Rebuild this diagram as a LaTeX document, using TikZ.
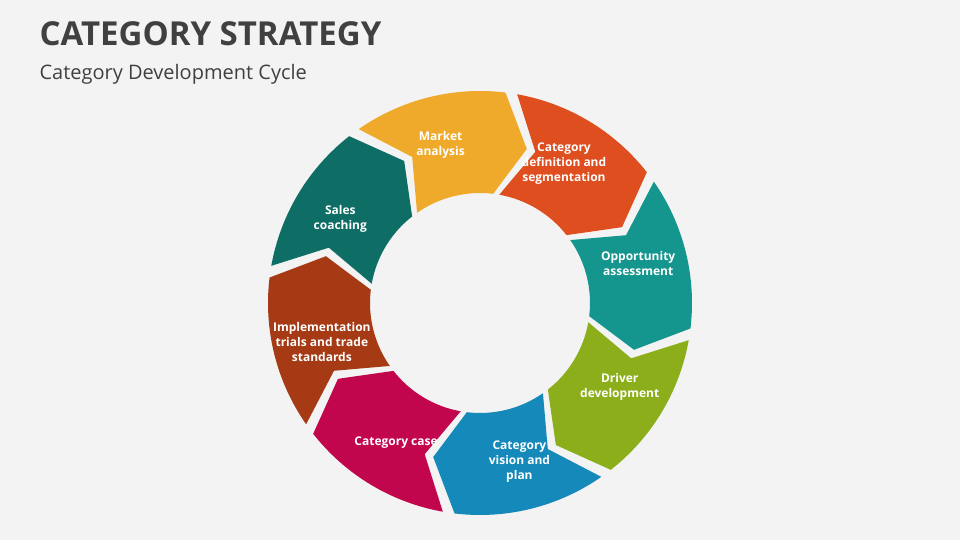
\documentclass[tikz,border=0pt]{standalone}
\usepackage{fontspec}
\setmainfont{Open Sans}
\definecolor{bg}{HTML}{F3F3F3}
\definecolor{cA}{HTML}{EFAA2B}
\definecolor{cB}{HTML}{DE4E1E}
\definecolor{cC}{HTML}{14968E}
\definecolor{cD}{HTML}{8BAE1A}
\definecolor{cE}{HTML}{1589BA}
\definecolor{cF}{HTML}{C2064E}
\definecolor{cG}{HTML}{A53A14}
\definecolor{cH}{HTML}{0E6E65}
\definecolor{ttl}{HTML}{404040}
\tikzset{lbl/.style={text=white,align=center,font=\fontsize{12}{15}\selectfont\bfseries}}
\begin{document}
\begin{tikzpicture}[x=1pt,y=1pt]
\fill[bg] (0,0) rectangle (960,540);
\useasboundingbox (0,0) rectangle (960,540);
\node[anchor=west,text=ttl,font=\fontsize{33}{36}\selectfont\bfseries] (title) at (36,506) {CATEGORY STRATEGY};
\node[anchor=west,text=ttl,font=\fontsize{20}{24}\selectfont] (sub) at (36,466) {Category Development Cycle};
\begin{scope}[shift={(480,237)}]
\foreach \c/\col/\txt/\nm in {104/cA/{Market\\analysis}/l1, 59/cB/{Category\\definition and\\segmentation}/l2, 14/cC/{Opportunity\\assessment}/l3, -31/cD/{Driver\\development}/l4, -76/cE/{Category\\vision and\\plan}/l5, -121/cF/{Category case}/l6, -166/cG/{Implementation\\trials and trade\\standards}/l7, 149/cH/{Sales\\coaching}/l8}{
  \pgfmathsetmacro{\aa}{\c+22.5-1.6}
  \pgfmathsetmacro{\ab}{\c-22.5+1.6}
  \pgfmathsetmacro{\ta}{\ab-10}
  \pgfmathsetmacro{\tb}{\aa-10}
  \fill[\col] (\aa:212) arc[start angle=\aa,end angle=\ab,radius=212] -- (\ta:161) -- (\ab:110) arc[start angle=\ab,end angle=\aa,radius=110] -- (\tb:161) -- cycle;
  \node[lbl] (\nm) at (\c:163) {\txt};
}
\end{scope}
\end{tikzpicture}
\end{document}
